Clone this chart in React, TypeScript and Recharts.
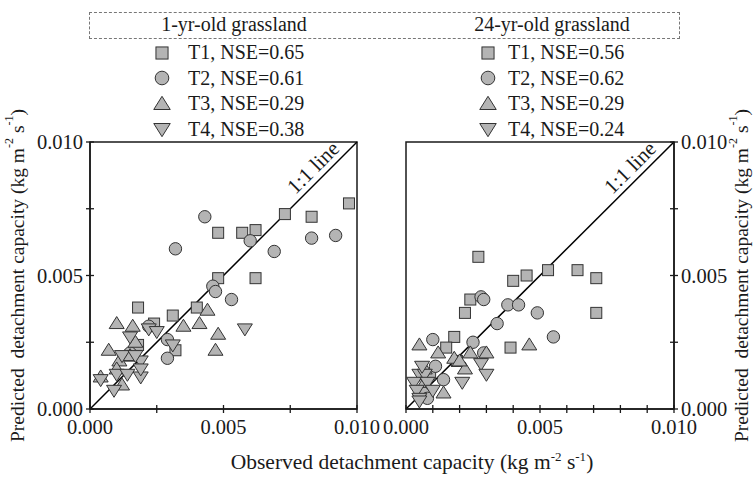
import React from 'react';
import { ScatterChart, Scatter, XAxis, YAxis, ReferenceLine, ReferenceArea, ReferenceDot, Legend } from 'recharts';

type Pt = [number, number];

// 1-yr-old grassland
const yr1T1: Pt[] = [[0.0048, 0.0066], [0.0057, 0.0066], [0.0062, 0.0067], [0.0073, 0.0073], [0.0083, 0.0072], [0.0097, 0.0077], [0.0048, 0.0049], [0.0062, 0.0049], [0.0040, 0.0038], [0.0031, 0.0035], [0.0018, 0.0038], [0.0024, 0.0032], [0.0018, 0.0024], [0.0032, 0.0022], [0.0015, 0.0020]];
const yr1T2: Pt[] = [[0.0043, 0.0072], [0.0032, 0.0060], [0.0060, 0.0063], [0.0069, 0.0059], [0.0083, 0.0064], [0.0092, 0.0065], [0.0046, 0.0046], [0.0047, 0.0044], [0.0053, 0.0041], [0.0029, 0.0026], [0.0029, 0.0019], [0.0022, 0.0031], [0.0015, 0.0021]];
const yr1T3: Pt[] = [[0.0010, 0.0032], [0.0016, 0.0031], [0.0035, 0.0031], [0.0041, 0.0032], [0.0044, 0.0037], [0.0048, 0.0028], [0.0047, 0.0022], [0.0007, 0.0022], [0.0017, 0.0025], [0.0011, 0.0018], [0.0012, 0.0009], [0.0004, 0.0012], [0.0010, 0.0015], [0.0015, 0.0020]];
const yr1T4: Pt[] = [[0.0015, 0.0027], [0.0022, 0.0030], [0.0025, 0.0029], [0.0031, 0.0024], [0.0058, 0.0030], [0.0012, 0.0020], [0.0019, 0.0018], [0.0010, 0.0013], [0.0014, 0.0013], [0.0019, 0.0012], [0.0004, 0.0011], [0.0009, 0.0007], [0.0017, 0.0020], [0.0019, 0.0015]];

// 24-yr-old grassland
const yr24T1: Pt[] = [[0.0027, 0.0057], [0.0040, 0.0048], [0.0045, 0.0050], [0.0053, 0.0052], [0.0064, 0.0052], [0.0071, 0.0049], [0.0024, 0.0041], [0.0022, 0.0036], [0.0071, 0.0036], [0.0039, 0.0023], [0.0018, 0.0027], [0.0015, 0.0023], [0.0019, 0.0018], [0.0009, 0.0013]];
const yr24T2: Pt[] = [[0.0028, 0.0042], [0.0029, 0.0041], [0.0038, 0.0039], [0.0042, 0.0039], [0.0049, 0.0036], [0.0034, 0.0032], [0.0055, 0.0027], [0.0010, 0.0026], [0.0025, 0.0025], [0.0029, 0.0021], [0.0011, 0.0016], [0.0014, 0.0011], [0.0007, 0.0006], [0.0008, 0.0004]];
const yr24T3: Pt[] = [[0.0005, 0.0024], [0.0012, 0.0021], [0.0018, 0.0019], [0.0024, 0.0021], [0.0030, 0.0021], [0.0022, 0.0015], [0.0046, 0.0024], [0.0014, 0.0006], [0.0007, 0.0015], [0.0020, 0.0018], [0.0007, 0.0010]];
const yr24T4: Pt[] = [[0.0028, 0.0017], [0.0030, 0.0013], [0.0021, 0.0010], [0.0005, 0.0013], [0.0007, 0.0013], [0.0003, 0.0010], [0.0008, 0.0010], [0.0004, 0.0007], [0.0005, 0.0004], [0.0010, 0.0007], [0.0006, 0.0016], [0.0005, 0.0003]];

const yr1Names = ['T1, NSE=0.65', 'T2, NSE=0.61', 'T3, NSE=0.29', 'T4, NSE=0.38'];
const yr24Names = ['T1, NSE=0.56', 'T2, NSE=0.62', 'T3, NSE=0.29', 'T4, NSE=0.24'];
const markerKinds = ['square', 'circle', 'up', 'down'];
const panelTitles = ['1-yr-old grassland', '24-yr-old grassland'];

const xTicksYoung = [0, 0.0025, 0.005, 0.0075, 0.01];
const xTicksOld = [0, 0.001, 0.002, 0.003, 0.004, 0.005, 0.006, 0.007, 0.008, 0.009, 0.01];
const yTicks = [0, 0.0025, 0.005, 0.0075, 0.01];

const FONT = '"Liberation Serif", "Times New Roman", serif';
const FILL = '#b4b4b4';
const EDGE = '#333';
const INK = '#1a1a1a';
const tickText = { fontFamily: FONT, fontSize: 20.5, fill: INK };

const toObj = (pts: Pt[]) => pts.map(([x, y]) => ({ x, y }));

function Marker({ kind, cx, cy, s = 1 }: { kind: string; cx: number; cy: number; s?: number }) {
  if (kind === 'square') {
    const h = 5.5 * s;
    return <rect x={cx - h} y={cy - h} width={2 * h} height={2 * h} fill={FILL} stroke={EDGE} strokeWidth={1} />;
  }
  if (kind === 'circle') {
    return <circle cx={cx} cy={cy} r={6.2 * s} fill={FILL} stroke={EDGE} strokeWidth={1} />;
  }
  const w = 7.5 * s;
  const pts = kind === 'up'
    ? `${cx},${cy - 7 * s} ${cx + w},${cy + 5 * s} ${cx - w},${cy + 5 * s}`
    : `${cx - w},${cy - 5 * s} ${cx + w},${cy - 5 * s} ${cx},${cy + 7 * s}`;
  return <polygon points={pts} fill={FILL} stroke={EDGE} strokeWidth={1} />;
}

const isMajor = (v: number) => Math.round(v * 1000) % 5 === 0;

// tickSize 4, tickMargin 0: x/y handed to the tick is 4px outside the axis line
const XTick = (props: any) => {
  const { x, y, payload } = props;
  const v = payload.value;
  const ay = y - 4;
  return (
    <g>
      <line x1={x} x2={x} y1={ay - 4} y2={ay + 4} stroke={INK} strokeWidth={1.3} />
      {isMajor(v) && (
        <text x={x} y={ay + 25} textAnchor="middle" style={tickText}>
          {v.toFixed(3)}
        </text>
      )}
    </g>
  );
};

const YTick = (props: any) => {
  const { x, y, payload, side } = props;
  const v = payload.value;
  const left = side === 'left';
  const ax = left ? x + 4 : x - 4;
  return (
    <g>
      <line x1={ax - 4} x2={ax + 4} y1={y} y2={y} stroke={INK} strokeWidth={1.3} />
      {isMajor(v) && (
        <text x={left ? ax - 7 : ax + 7} y={y + 7} textAnchor={left ? 'end' : 'start'} style={tickText}>
          {v.toFixed(3)}
        </text>
      )}
    </g>
  );
};

const YTitle = ({ viewBox, side }: any) => {
  const edge = side === 'left' ? viewBox.x + viewBox.width : viewBox.x;
  const cx = side === 'left' ? edge - 73 : edge + 67;
  const cy = viewBox.y + viewBox.height / 2;
  return (
    <text x={cx} y={cy} transform={`rotate(-90, ${cx}, ${cy})`} textAnchor="middle" dominantBaseline="central" style={{ fontFamily: FONT, fontSize: 19.5, fill: INK }}>
      Predicted{'\u00a0 '}detachment capacity (kg m<tspan dy={-8} style={{ fontSize: 12 }}>-2</tspan>
      <tspan dy={8}> s</tspan>
      <tspan dy={-8} style={{ fontSize: 12 }}>-1</tspan>
      <tspan dy={8}>)</tspan>
    </text>
  );
};

const LineTag = ({ cx, cy }: any) => (
  <text x={0} y={-6} transform={`translate(${cx}, ${cy}) rotate(-45)`} textAnchor="middle" style={{ fontFamily: FONT, fontSize: 21, fill: INK }}>
    1:1 line
  </text>
);

interface PanelProps {
  series: Pt[][];
  names: string[];
  xTicks: number[];
  side: 'left' | 'right';
  left: number;
  width: number;
  margin: { top: number; right: number; bottom: number; left: number };
  legendLeft: number;
  legendGap: number;
}

const Panel: React.FC<PanelProps> = ({ series, names, xTicks, side, left, width, margin, legendLeft, legendGap }) => (
  <div style={{ position: 'absolute', left, top: 0 }}>
    <ScatterChart width={width} height={481} margin={margin} style={{ fontFamily: FONT }}>
      <XAxis
        type="number"
        dataKey="x"
        domain={[0, 0.01]}
        ticks={xTicks}
        interval={0}
        height={30}
        tickSize={4}
        tickMargin={0}
        tickLine={false}
        axisLine={{ stroke: INK, strokeWidth: 1.5 }}
        tick={<XTick />}
        allowDataOverflow
      />
      <YAxis
        type="number"
        dataKey="y"
        domain={[0, 0.01]}
        ticks={yTicks}
        interval={0}
        width={40}
        orientation={side}
        tickSize={4}
        tickMargin={0}
        tickLine={false}
        axisLine={{ stroke: INK, strokeWidth: 1.5 }}
        tick={<YTick side={side} />}
        label={{ content: (p: any) => <YTitle viewBox={p.viewBox} side={side} /> }}
        allowDataOverflow
      />
      <ReferenceArea x1={0} x2={0.01} y1={0} y2={0.01} fill="none" fillOpacity={0} stroke={INK} strokeWidth={1.5} />
      {series.map((pts, i) => (
        <Scatter
          key={names[i]}
          name={names[i]}
          data={toObj(pts)}
          fill={FILL}
          isAnimationActive={false}
          shape={(p: any) => <Marker kind={markerKinds[i]} cx={p.cx} cy={p.cy} />}
        />
      ))}
      <ReferenceLine segment={[{ x: 0, y: 0 }, { x: 0.01, y: 0.01 }]} stroke="#000" strokeWidth={1.5} />
      <ReferenceDot x={0.0087} y={0.0087} r={0} ifOverflow="visible" shape={(p: any) => <LineTag cx={p.cx} cy={p.cy} />} />
      <Legend
        layout="vertical"
        align="center"
        verticalAlign="middle"
        wrapperStyle={{ left: legendLeft, top: 40, width: 180, height: 104 }}
        content={({ payload }: any) => (
          <div>
            {(payload || []).map((e: any) => {
              const idx = names.indexOf(e.value);
              return (
                <div key={e.value} style={{ display: 'flex', alignItems: 'center', height: 25.5 }}>
                  <svg width={20} height={20}>
                    <Marker kind={markerKinds[idx]} cx={10} cy={10} s={1.1} />
                  </svg>
                  <span style={{ marginLeft: legendGap, fontFamily: FONT, fontSize: 20, color: INK, whiteSpace: 'nowrap' }}>{e.value}</span>
                </div>
              );
            })}
          </div>
        )}
      />
    </ScatterChart>
  </div>
);

export default function App() {
  return (
    <div style={{ position: 'absolute', left: 0, top: 0, width: 755, height: 481, background: '#fff', fontFamily: FONT, color: INK }}>
      <div style={{ position: 'absolute', left: 89, top: 12, width: 589, height: 25, border: '1px dashed #777' }} />
      <div style={{ position: 'absolute', left: 134, top: 11, width: 200, textAlign: 'center', fontSize: 20, lineHeight: '26px' }}>{panelTitles[0]}</div>
      <div style={{ position: 'absolute', left: 452, top: 11, width: 200, textAlign: 'center', fontSize: 20, lineHeight: '26px' }}>{panelTitles[1]}</div>
      <Panel
        series={[yr1T1, yr1T2, yr1T3, yr1T4]}
        names={yr1Names}
        xTicks={xTicksYoung}
        side="left"
        left={0}
        width={400}
        margin={{ top: 142, right: 43, bottom: 42, left: 50 }}
        legendLeft={152}
        legendGap={16}
      />
      <Panel
        series={[yr24T1, yr24T2, yr24T3, yr24T4]}
        names={yr24Names}
        xTicks={xTicksOld}
        side="right"
        left={360}
        width={395}
        margin={{ top: 142, right: 41, bottom: 42, left: 46 }}
        legendLeft={118}
        legendGap={10}
      />
      <div style={{ position: 'absolute', left: 212, top: 452, width: 400, textAlign: 'center', fontSize: 21.5, lineHeight: 1, whiteSpace: 'nowrap' }}>
        Observed detachment capacity (kg m<sup style={{ fontSize: 13, lineHeight: 0 }}>-2</sup> s<sup style={{ fontSize: 13, lineHeight: 0 }}>-1</sup>)
      </div>
    </div>
  );
}
